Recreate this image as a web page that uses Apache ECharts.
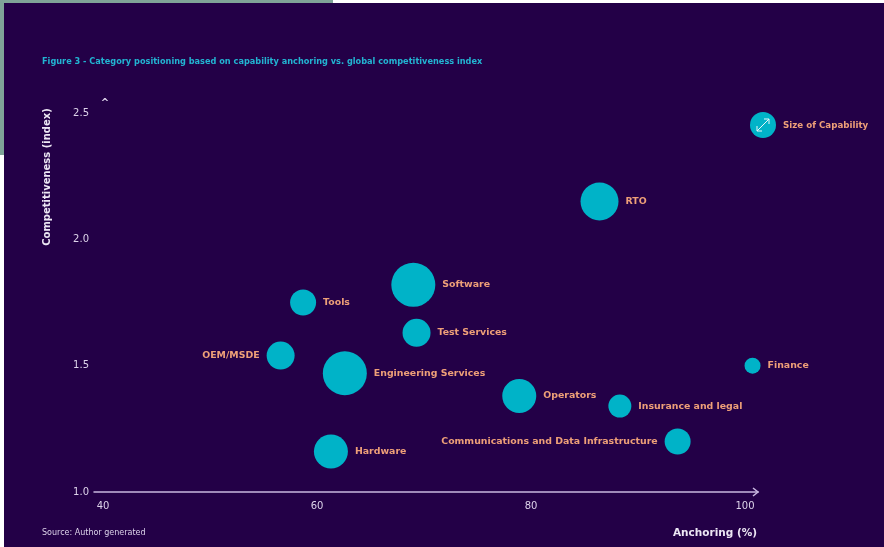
<!DOCTYPE html>
<html>
<head>
<meta charset="utf-8">
<script src="https://cdn.jsdelivr.net/npm/echarts@6/dist/echarts.min.js"></script>
<style>
html,body{margin:0;padding:0;background:#ffffff;}
#chart{width:884px;height:547px;}
</style>
</head>
<body>
<div id="chart"></div>
<script>
// ---- Data ----
var categories = ["RTO","Software","Tools","Test Services","OEM/MSDE","Engineering Services","Operators","Insurance and legal","Communications and Data Infrastructure","Hardware","Finance"];
var anchoring = [86.4, 69.0, 58.7, 69.3, 56.6, 62.6, 78.9, 88.3, 93.7, 61.3, 100.7];
var competitiveness = [2.15, 1.82, 1.75, 1.63, 1.54, 1.47, 1.38, 1.34, 1.20, 1.16, 1.50];
var capabilitySize = [38, 44, 26, 28, 28, 44, 34, 23, 26, 34, 16];
var labelSide = ["right","right","right","right","left","right","right","right","left","right","right"];
var xTickLabels = [40, 60, 80, 100];
var yTickLabels = [1.0, 1.5, 2.0, 2.5];

var purple = '#230047';
var cyan = '#00b3c8';
var salmon = '#ee9f78';
var axisCol = '#c9b8e0';
var font = '"DejaVu Sans", sans-serif';

var data = categories.map(function(c, i){
  return {
    name: c,
    value: [anchoring[i], competitiveness[i], capabilitySize[i]],
    label: {position: labelSide[i]}
  };
});

var chart = echarts.init(document.getElementById('chart'));
chart.setOption({
  backgroundColor: purple,
  animation: false,
  grid: {left: 94, right: 126, top: 113, bottom: 55},
  xAxis: {
    type: 'value', min: 39.16, max: 101.21,
    splitLine: {show: false},
    axisTick: {show: false},
    axisLine: {show: true, lineStyle: {color: axisCol, width: 1.5}},
    axisLabel: {customValues: xTickLabels, color: '#ddd3ea', fontSize: 10, fontFamily: font, margin: 9}
  },
  yAxis: {
    type: 'value', min: 1.0, max: 2.5, interval: 0.5,
    splitLine: {show: false},
    axisTick: {show: false},
    axisLine: {show: false},
    axisLabel: {color: '#ddd3ea', fontSize: 10, fontFamily: font, margin: 5,
      formatter: function(v){ return v.toFixed(1); }}
  },
  series: [{
    type: 'scatter',
    clip: false,
    data: data,
    symbolSize: function(v){ return v[2]; },
    itemStyle: {color: cyan, opacity: 1},
    label: {
      show: true,
      formatter: '{b}',
      color: salmon,
      fontSize: 9.4,
      fontWeight: 'bold',
      fontFamily: font,
      distance: 7
    }
  }],
  graphic: [
    {type: 'rect', shape: {x: 0, y: 0, width: 884, height: 3}, style: {fill: '#ffffff'}, z: 100},
    {type: 'rect', shape: {x: 0, y: 0, width: 4, height: 547}, style: {fill: '#ffffff'}, z: 100},
    {type: 'rect', shape: {x: 0, y: 0, width: 333, height: 3}, style: {fill: '#7fa398'}, z: 101},
    {type: 'rect', shape: {x: 0, y: 0, width: 4, height: 155}, style: {fill: '#7fa398'}, z: 101},
    {type: 'text', x: 42, y: 62, style: {text: 'Figure 3 - Category positioning based on capability anchoring vs. global competitiveness index', fill: '#22b4d2', font: 'bold 8.2px ' + font, verticalAlign: 'middle'}},
    {type: 'text', x: 47, y: 177, rotation: Math.PI/2, style: {text: 'Competitiveness (index)', fill: '#ece6f4', font: 'bold 10px ' + font, align: 'center', verticalAlign: 'middle'}},
    {type: 'text', x: 757, y: 533, style: {text: 'Anchoring (%)', fill: '#ece6f4', font: 'bold 10.5px ' + font, align: 'right', verticalAlign: 'middle'}},
    {type: 'text', x: 42, y: 533, style: {text: 'Source: Author generated', fill: '#ddd3ea', font: '8px ' + font, verticalAlign: 'middle'}},
    {type: 'text', x: 105, y: 103, style: {text: '^', fill: '#ddd3ea', font: 'bold 10px ' + font, align: 'center', verticalAlign: 'middle'}},
    {type: 'polyline', shape: {points: [[753, 488], [758, 492], [753, 496]]}, style: {stroke: axisCol, lineWidth: 1.5, fill: null}},
    {type: 'circle', shape: {cx: 763, cy: 125, r: 13}, style: {fill: cyan}},
    {type: 'line', shape: {x1: 757, y1: 131, x2: 769, y2: 119}, style: {stroke: '#e8f6fa', lineWidth: 1}},
    {type: 'polyline', shape: {points: [[764, 119], [769, 119], [769, 124]]}, style: {stroke: '#e8f6fa', lineWidth: 1, fill: null}},
    {type: 'polyline', shape: {points: [[757, 126], [757, 131], [762, 131]]}, style: {stroke: '#e8f6fa', lineWidth: 1, fill: null}},
    {type: 'text', x: 783, y: 126, style: {text: 'Size of Capability', fill: salmon, font: 'bold 8.7px ' + font, verticalAlign: 'middle'}}
  ]
});
</script>
</body>
</html>
